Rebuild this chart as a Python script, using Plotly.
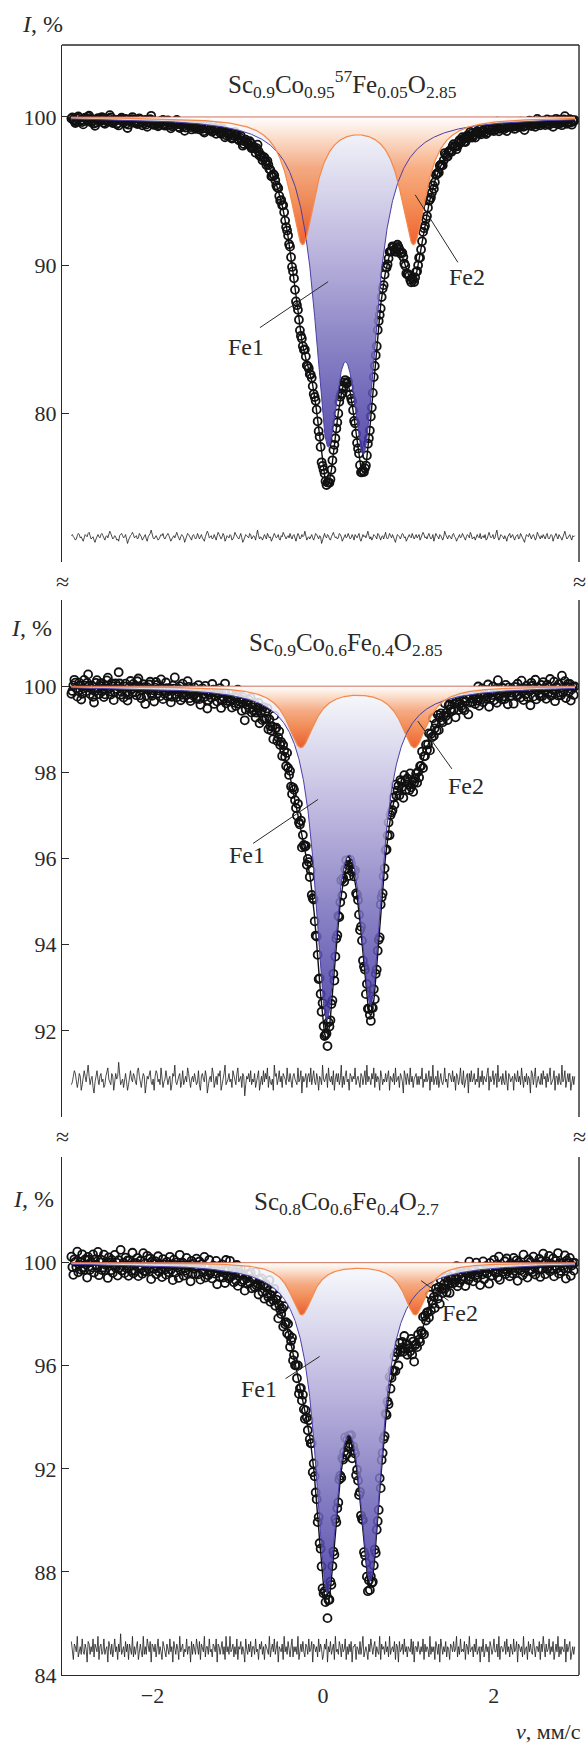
import numpy as np
import plotly.graph_objects as go

# ------------------------------------------------------------------ data
x_tickvals = [-2, 0, 2]
x_ticktext = ['\u22122', '0', '2']
x_range = [-3.06, 3.0]
v_first, v_last = -2.95, 2.95          # first / last channel velocity, mm/s

p1_title = 'Sc<sub>0.9</sub>Co<sub>0.95</sub><sup>57</sup>Fe<sub>0.05</sub>O<sub>2.85</sub>'
p2_title = 'Sc<sub>0.9</sub>Co<sub>0.6</sub>Fe<sub>0.4</sub>O<sub>2.85</sub>'
p3_title = 'Sc<sub>0.8</sub>Co<sub>0.6</sub>Fe<sub>0.4</sub>O<sub>2.7</sub>'

p1_yrange = [70, 104.85]
p2_yrange = [90, 102]
p3_yrange = [84, 104.1]
p1_yticks = [80, 90, 100]
p2_yticks = [92, 94, 96, 98, 100]
p3_yticks = [84, 88, 92, 96, 100]

# Lorentzian doublets: line positions (mm/s), depths (%), HWHM (mm/s)
p1_fe1_pos, p1_fe1_depth, p1_fe1_hwhm = [0.05, 0.48], [19.1, 19.7], 0.185
p1_fe2_pos, p1_fe2_depth, p1_fe2_hwhm = [-0.24, 1.06], [8.45, 8.45], 0.18
p2_fe1_pos, p2_fe1_depth, p2_fe1_hwhm = [0.04, 0.56], [7.14, 6.76], 0.163
p2_fe2_pos, p2_fe2_depth, p2_fe2_hwhm = [-0.26, 1.07], [1.4, 1.4], 0.19
p3_fe1_pos, p3_fe1_depth, p3_fe1_hwhm = [0.045, 0.555], [11.76, 11.26], 0.163
p3_fe2_pos, p3_fe2_depth, p3_fe2_hwhm = [-0.25, 1.08], [2.0, 2.0], 0.16

# residuals (data - fit), in steps of res_unit %, and where the residual trace is drawn
p1_res_unit, p1_res_offset = 0.075, 71.7
p2_res_unit, p2_res_offset = 0.065, 90.88
p3_res_unit, p3_res_offset = 0.1, 85.0

res1 = [1,2,0,-1,-3,-2,1,3,2,-1,0,-2,-4,-1,2,1,0,3,4,1,-2,-1,0,-3,-5,-2,1,2,0,-1,2,3,
1,-2,-3,0,1,-1,2,5,3,0,-2,-1,1,0,-3,-2,-4,1,2,3,1,-1,0,2,-2,-6,-3,0,1,2,4,2,
-1,0,1,-2,-1,3,2,0,-3,-1,1,2,-2,-4,0,1,3,6,2,-1,-2,0,1,-1,-3,-2,0,2,1,3,-1,-2,
0,2,3,1,-1,-4,-2,0,1,-1,2,4,1,-2,-3,0,2,1,-1,-5,-2,1,3,2,0,-1,-3,1,2,0,-2,-1,
3,1,-2,0,2,-1,-3,-4,0,2,5,3,-1,0,1,-2,-1,2,0,-3,1,4,2,-1,-2,0,3,1,-4,-2,1,0,
-1,2,1,-3,-2,0,4,2,1,-1,-2,1,3,-1,-5,-3,0,2,1,0,-1,3,2,-2,-1,1,0,-3,2,6,1,-2,
0,-1,-3,1,2,0,-2,3,1,-1,0,-4,-2,2,3,1,-1,0,2,-2,-3,1,0,4,2,-1,-2,0,1,-1,3,0,
-2,1,2,-1,-4,0,3,1,-2,-1,2,0,1,5,2,-3,-1,0,-2,1,2,-1,-3,0,3,2,-1,-2,1,0,-6,-2,
1,3,0,-1,2,1,-2,-3,0,2,4,1,-1,0,-2,-1,3,2,0,-4,-2,1,2,-1,0,3,1,-2,-1,2,0,-3,
2,0,-1,1,3,-2,-4,-1,2,0,1,-1,2,5,1,-2,0,-3,-1,2,1,0,-2,3,2,-1,-3,0,1,-2,2,4,
-1,-2,0,3,1,-1,2,0,-3,-5,-1,2,1,0,-2,1,3,2,-1,0,-4,-2,1,2,0,-1,3,1,-2,0,2,-1,
0,2,-3,-1,1,4,2,-1,0,-2,1,3,0,-2,-1,2,-4,-1,3,1,0,-2,2,1,-1,-3,0,5,2,-1,-2,1,
1,-1,-2,2,3,0,-1,-4,-2,1,2,-1,0,3,1,-2,-3,0,2,1,-1,4,2,-2,-1,0,-3,1,2,0,-1,3,
-2,0,1,-1,2,-3,-2,1,4,1,-1,0,2,-2,-1,3,6,0,-3,-1,2,1,0,-2,1,-1,-4,0,2,3,-1,0,
2,-1,-3,0,1,2,-2,-1,3,1,0,-2,-5,-1,2,1,0,3,-1,-2,1,2,0,-3,-1,4,2,0,-2,1,-1,2,
0,-2,1,3,-1,-2,0,2,1,-4,-1,1,3,0,-2,2,1,-1,-3,0,2,5,1,-2,-1,0,2,-1,-3,1,0,1]

res2 = [-2,-1,1,3,2,0,-3,-1,2,1,-4,-2,0,3,1,-1,2,5,1,-2,0,1,-3,-5,-1,2,3,0,-2,1,2,-1,
0,-3,-2,1,3,4,0,-1,-2,2,1,-4,-1,2,0,1,6,2,-2,-1,0,-3,1,2,-1,-4,-2,1,3,0,-1,2,
1,-1,-2,3,4,1,-2,-3,0,2,1,-5,-2,1,0,2,3,-1,-2,0,-4,1,3,2,-1,0,-2,4,1,-3,-1,0,
3,1,-2,0,1,-4,-2,2,1,5,-1,-2,0,1,2,-3,-1,3,-2,0,1,-1,4,2,-2,-3,0,1,-1,2,0,-2,
-1,3,-2,-4,1,2,0,-1,3,1,-5,-2,0,1,-1,4,2,-3,0,1,-2,2,1,3,-4,-1,0,2,5,-2,-1,0,
2,-1,0,-3,3,1,-1,-2,2,4,-1,0,1,-3,2,1,-6,-2,1,0,2,-1,3,-2,0,-1,2,-3,-1,1,3,-4,
0,1,-2,3,-1,2,0,4,-3,1,-1,-2,0,-4,5,1,2,-2,0,3,-1,1,-3,2,1,0,-2,4,0,-1,2,-2,
-3,1,2,0,-1,-2,4,-1,0,3,-5,1,-1,0,2,-3,1,2,-1,4,-2,0,3,-1,-2,2,0,-4,1,0,-2,5,
0,-1,1,2,-3,4,0,-1,1,-2,3,-4,0,2,-1,2,-2,0,5,-3,1,-2,1,3,-1,0,-4,2,1,-1,1,0,
4,-2,0,1,-1,-3,2,1,-2,0,3,-2,5,-1,1,0,-2,2,0,4,-3,2,-1,1,0,-4,3,1,-2,0,-1,2,
-1,1,3,-4,1,0,-1,2,-2,4,-1,0,1,-3,2,1,-1,-5,3,1,-2,2,0,-2,4,-1,1,-3,0,1,2,-2,
1,-2,1,0,4,-3,0,-1,2,-1,0,3,-4,1,-1,5,-2,0,1,-2,3,-3,1,2,-1,-2,0,4,-1,0,-3,2,
2,0,-1,3,-1,1,-4,2,1,-2,0,4,-1,-2,3,-3,0,1,2,-5,2,-1,3,-1,0,2,-2,0,-1,4,-3,1,
-1,3,-2,1,0,-1,2,4,-4,1,-1,0,3,-2,1,2,-3,5,-1,0,1,-2,2,-1,-2,3,0,-4,2,1,-1,0,
1,-4,2,0,-1,3,-1,1,-2,4,0,-3,1,-1,2,-2,1,0,-5,3,2,-2,1,4,-3,0,1,-1,-2,2,-2,3,
0,1,-3,2,-1,1,4,-2,-1,0,3,-4,1,1,-2,2,-1,-2,5,-1,0,3,-3,1,2,-1,2,-4,0,1,-2,1]

res3 = [3,-1,-4,2,1,-1,5,-3,0,1,-2,4,-1,-2,2,0,-5,3,2,-2,1,-1,4,-3,2,0,-1,5,-4,1,2,-2,
-1,4,-2,0,1,-5,3,1,-2,2,-3,0,4,-1,1,-4,2,-1,6,-2,0,1,-3,3,-1,2,-4,2,0,-2,5,-3,
1,-2,1,3,-4,0,2,-1,-3,5,-2,1,-2,4,0,-1,3,-5,2,1,-1,2,-3,0,4,-2,1,-1,-4,3,1,-1,
-3,2,0,-2,4,-1,1,-5,3,1,-2,2,0,-4,5,-1,1,2,-3,0,-1,4,-2,1,1,-5,3,-2,2,0,-2,4,
1,-2,3,-4,2,0,-1,5,-3,1,1,-2,4,-1,0,-3,2,1,-1,4,-5,2,1,-2,0,3,-2,1,-4,5,-1,1,
-2,5,-1,0,2,-3,1,-2,4,-4,1,0,3,-2,1,-1,-5,4,0,-2,2,-1,3,-3,1,1,-2,4,-1,0,-4,2,
0,3,-2,1,-4,2,1,-1,-2,5,-3,0,2,-1,4,-2,1,3,-5,1,0,-1,2,-4,5,-1,1,-2,3,0,-3,1,
4,-3,1,-1,1,-2,5,-4,0,2,-1,3,-1,-3,2,1,-2,4,-1,0,3,-5,2,1,-1,1,-3,4,-1,2,0,-4,
-2,2,0,4,-5,1,-1,3,-2,1,2,-4,5,-1,0,-2,3,1,-3,2,-1,0,4,-4,1,-2,2,-1,3,-5,1,1,
2,-4,1,0,-2,3,-2,1,5,-3,0,1,-1,-4,2,-1,4,0,-2,1,3,-3,1,-1,-2,5,-4,2,0,1,-2,3,
-1,1,-3,5,-2,0,1,-1,3,-4,2,1,-5,3,-1,0,2,-2,4,-1,1,-3,1,0,-1,4,-2,3,-5,1,1,-1,
3,0,-2,1,-1,4,-4,2,-1,1,0,-3,5,-2,1,-1,1,-4,3,1,-2,2,-5,4,0,-2,1,-1,3,-3,1,0,
-4,2,1,-1,3,-1,0,5,-3,1,-2,4,-1,0,-1,3,-4,2,1,-2,5,-1,0,1,-3,2,-1,4,-2,0,1,-5,
1,-1,4,-3,0,2,-1,1,-5,3,1,-2,0,4,-1,-1,2,-3,5,-4,1,1,-1,0,3,-2,4,-1,1,-3,2,0,
-2,4,-1,0,3,-5,2,1,-1,1,-3,5,-2,0,1,-4,3,-1,2,-1,-2,4,0,-3,1,1,-1,3,-4,2,-1,5,
1,-3,2,-1,0,4,-2,1,-1,3,-4,0,2,-1,5,-3,1,-2,1,0,-1,4,-5,2,-1,1,3,-4,0,1,-2,1]

# label anchors (data coordinates): text position and leader-line ends
p1_fe1_label = dict(text=(-0.90, 84.5), line=((-0.74, 85.8), (0.06, 88.9)))
p1_fe2_label = dict(text=(1.69, 89.2), line=((1.58, 90.2), (1.08, 94.75)))
p2_fe1_label = dict(text=(-0.89, 96.07), line=((-0.82, 96.35), (-0.06, 97.37)))
p2_fe2_label = dict(text=(1.68, 97.69), line=((1.51, 98.08), (1.11, 99.19)))
p3_fe1_label = dict(text=(-0.75, 95.08), line=((-0.44, 95.5), (-0.04, 96.36)))
p3_fe2_label = dict(text=(1.61, 98.03), line=((1.47, 98.53), (1.15, 99.3)))

# ------------------------------------------------------------------ style / layout
W, H = 588, 1746
L, R, T, B = 62, 9, 45, 71
PW, PH = W - L - R, H - T - B
FONT = 'Liberation Serif'
INK = '#2a2a2a'


def pyf(y):
    return (H - B - y) / PH


def pxf(x):
    return (x - L) / PW


domains = [(pyf(562), 1.0), (pyf(1117), pyf(600)), (0.0, pyf(1157))]

ORANGE_SCALE = [[0, 'rgb(236,72,16)'], [0.35, 'rgb(243,128,64)'], [0.6, 'rgb(246,160,112)'],
                [0.86, 'rgb(253,224,204)'], [1, 'rgb(255,255,255)']]
BLUE_SCALE = [[0, 'rgb(60,48,158)'], [0.07, 'rgb(74,62,166)'], [0.33, 'rgb(120,112,188)'],
              [0.6, 'rgb(176,168,216)'], [0.91, 'rgb(232,232,244)'], [1, 'rgb(250,250,255)']]


def dip(v, pos, depth, hwhm):
    out = np.zeros_like(v)
    for p, d in zip(pos, depth):
        out += d / (1.0 + ((v - p) / hwhm) ** 2)
    return out


panels = [
    dict(xa='x3', ya='y', title=p1_title, yr=p1_yrange, yt=p1_yticks,
         fe1=(p1_fe1_pos, p1_fe1_depth, p1_fe1_hwhm), fe2=(p1_fe2_pos, p1_fe2_depth, p1_fe2_hwhm),
         res=res1, ru=p1_res_unit, ro=p1_res_offset, l1=p1_fe1_label, l2=p1_fe2_label,
         title_xy=(0.23, 102.25), ilabel=(42, 24)),
    dict(xa='x2', ya='y2', title=p2_title, yr=p2_yrange, yt=p2_yticks,
         fe1=(p2_fe1_pos, p2_fe1_depth, p2_fe1_hwhm), fe2=(p2_fe2_pos, p2_fe2_depth, p2_fe2_hwhm),
         res=res2, ru=p2_res_unit, ro=p2_res_offset, l1=p2_fe1_label, l2=p2_fe2_label,
         title_xy=(0.27, 100.97), ilabel=(31, 628)),
    dict(xa='x', ya='y3', title=p3_title, yr=p3_yrange, yt=p3_yticks,
         fe1=(p3_fe1_pos, p3_fe1_depth, p3_fe1_hwhm), fe2=(p3_fe2_pos, p3_fe2_depth, p3_fe2_hwhm),
         res=res3, ru=p3_res_unit, ro=p3_res_offset, l1=p3_fe1_label, l2=p3_fe2_label,
         title_xy=(0.27, 102.3), ilabel=(33, 1199)),
]

fig = go.Figure()
annotations = []
shapes = []

for P in panels:
    xa, ya = P['xa'], P['ya']
    res = np.array(P['res'], dtype=float) * P['ru']
    v = np.linspace(v_first, v_last, len(res))
    vg = np.linspace(v_first, v_last, 1201)
    d1g, d2g = dip(vg, *P['fe1']), dip(vg, *P['fe2'])
    d1, d2 = dip(v, *P['fe1']), dip(v, *P['fe2'])
    fit = 100.0 - d1 - d2
    data = fit + res

    # total fit under data
    fig.add_trace(go.Scatter(x=vg, y=100 - d1g - d2g, mode='lines', xaxis=xa, yaxis=ya,
                             line=dict(color='#111111', width=1.4), hoverinfo='skip'))
    # data points
    fig.add_trace(go.Scatter(x=v, y=data, mode='markers', xaxis=xa, yaxis=ya,
                             marker=dict(symbol='circle-open', size=8, color='#111111',
                                         line=dict(width=1.8, color='#111111')),
                             hoverinfo='skip'))
    # Fe1 fill (blue gradient)
    y1 = 100 - d1g
    fig.add_trace(go.Scatter(x=np.concatenate([vg, vg[::-1]]),
                             y=np.concatenate([y1, np.full_like(vg, 100.0)]),
                             mode='lines', fill='toself', xaxis=xa, yaxis=ya,
                             line=dict(width=0), opacity=0.86,
                             fillgradient=dict(type='vertical', colorscale=BLUE_SCALE,
                                               start=float(y1.min()), stop=100.0),
                             hoverinfo='skip'))
    # Fe2 fill (orange gradient)
    y2 = 100 - d2g
    fig.add_trace(go.Scatter(x=np.concatenate([vg, vg[::-1]]),
                             y=np.concatenate([y2, np.full_like(vg, 100.0)]),
                             mode='lines', fill='toself', xaxis=xa, yaxis=ya,
                             line=dict(width=0), opacity=0.86,
                             fillgradient=dict(type='vertical', colorscale=ORANGE_SCALE,
                                               start=float(y2.min()), stop=100.0),
                             hoverinfo='skip'))
    # component lines
    fig.add_trace(go.Scatter(x=vg, y=y1, mode='lines', xaxis=xa, yaxis=ya,
                             line=dict(color='#4a3fa5', width=1.0), hoverinfo='skip'))
    fig.add_trace(go.Scatter(x=vg, y=y2, mode='lines', xaxis=xa, yaxis=ya,
                             line=dict(color='#f28a4c', width=1.2), hoverinfo='skip'))
    fig.add_trace(go.Scatter(x=[v_first, v_last], y=[100, 100], mode='lines', xaxis=xa, yaxis=ya,
                             line=dict(color='#c8604a', width=0.9), hoverinfo='skip'))
    # residuals
    fig.add_trace(go.Scatter(x=v, y=P['ro'] + res, mode='lines', xaxis=xa, yaxis=ya,
                             line=dict(color='#1e1e1e', width=0.8), hoverinfo='skip'))

    # title
    annotations.append(dict(x=P['title_xy'][0], y=P['title_xy'][1], xref=xa, yref=ya,
                            text=P['title'], showarrow=False, xanchor='center', yanchor='middle',
                            font=dict(family=FONT, size=25, color=INK)))
    # I, % label
    annotations.append(dict(x=pxf(P['ilabel'][0]), y=pyf(P['ilabel'][1]), xref='paper', yref='paper',
                            text='<i>I</i>, %', showarrow=False, xanchor='center', yanchor='middle',
                            font=dict(family=FONT, size=24, color=INK)))
    # Fe labels + leader lines
    for lab, txt in ((P['l1'], 'Fe1'), (P['l2'], 'Fe2')):
        annotations.append(dict(x=lab['text'][0], y=lab['text'][1], xref=xa, yref=ya, text=txt,
                                showarrow=False, xanchor='center', yanchor='middle',
                                font=dict(family=FONT, size=24, color=INK)))
        (xa0, ya0), (xa1, ya1) = lab['line']
        shapes.append(dict(type='line', xref=xa, yref=ya, x0=xa0, y0=ya0, x1=xa1, y1=ya1,
                           line=dict(color=INK, width=1)))

# frame lines
shapes.append(dict(type='line', xref='paper', yref='paper', x0=0, x1=1, y0=1, y1=1,
                   line=dict(color=INK, width=1.4)))
for d0, d1_ in domains:
    shapes.append(dict(type='line', xref='paper', yref='paper', x0=1, x1=1, y0=d0, y1=d1_,
                       line=dict(color=INK, width=1.4)))

# break marks
for yb in (582, 1137):
    for xb in (62, 579):
        annotations.append(dict(x=pxf(xb), y=pyf(yb), xref='paper', yref='paper', text='\u2248',
                                showarrow=False, xanchor='center', yanchor='middle',
                                font=dict(family=FONT, size=24, color=INK)))

annotations.append(dict(x=pxf(583), y=pyf(1731), xref='paper', yref='paper',
                        text='<i>\u03bd</i>, \u043c\u043c/\u0441', showarrow=False,
                        xanchor='right', yanchor='middle', font=dict(family=FONT, size=22, color=INK)))

axis_common = dict(showgrid=False, zeroline=False)
yaxis_common = dict(axis_common, showline=True, linecolor=INK, linewidth=1.4, ticks='inside',
                    ticklen=7, tickwidth=1.2, tickcolor=INK,
                    tickfont=dict(family=FONT, size=22, color=INK))

fig.update_layout(
    width=W, height=H, margin=dict(l=L, r=R, t=T, b=B),
    paper_bgcolor='white', plot_bgcolor='white', showlegend=False,
    xaxis=dict(axis_common, range=x_range, anchor='y3', showline=True, linecolor=INK, linewidth=1.4,
               tickvals=x_tickvals, ticktext=x_ticktext, ticks='',
               tickfont=dict(family=FONT, size=22, color=INK)),
    xaxis2=dict(axis_common, range=x_range, anchor='y2', matches='x', showticklabels=False,
                showline=False, ticks=''),
    xaxis3=dict(axis_common, range=x_range, anchor='y', matches='x', showticklabels=False,
                showline=False, ticks=''),
    yaxis=dict(yaxis_common, domain=list(domains[0]), range=p1_yrange, tickvals=p1_yticks, anchor='x3'),
    yaxis2=dict(yaxis_common, domain=list(domains[1]), range=p2_yrange, tickvals=p2_yticks, anchor='x2'),
    yaxis3=dict(yaxis_common, domain=list(domains[2]), range=p3_yrange, tickvals=p3_yticks, anchor='x'),
    annotations=annotations, shapes=shapes,
)

fig.write_html('out.html')
